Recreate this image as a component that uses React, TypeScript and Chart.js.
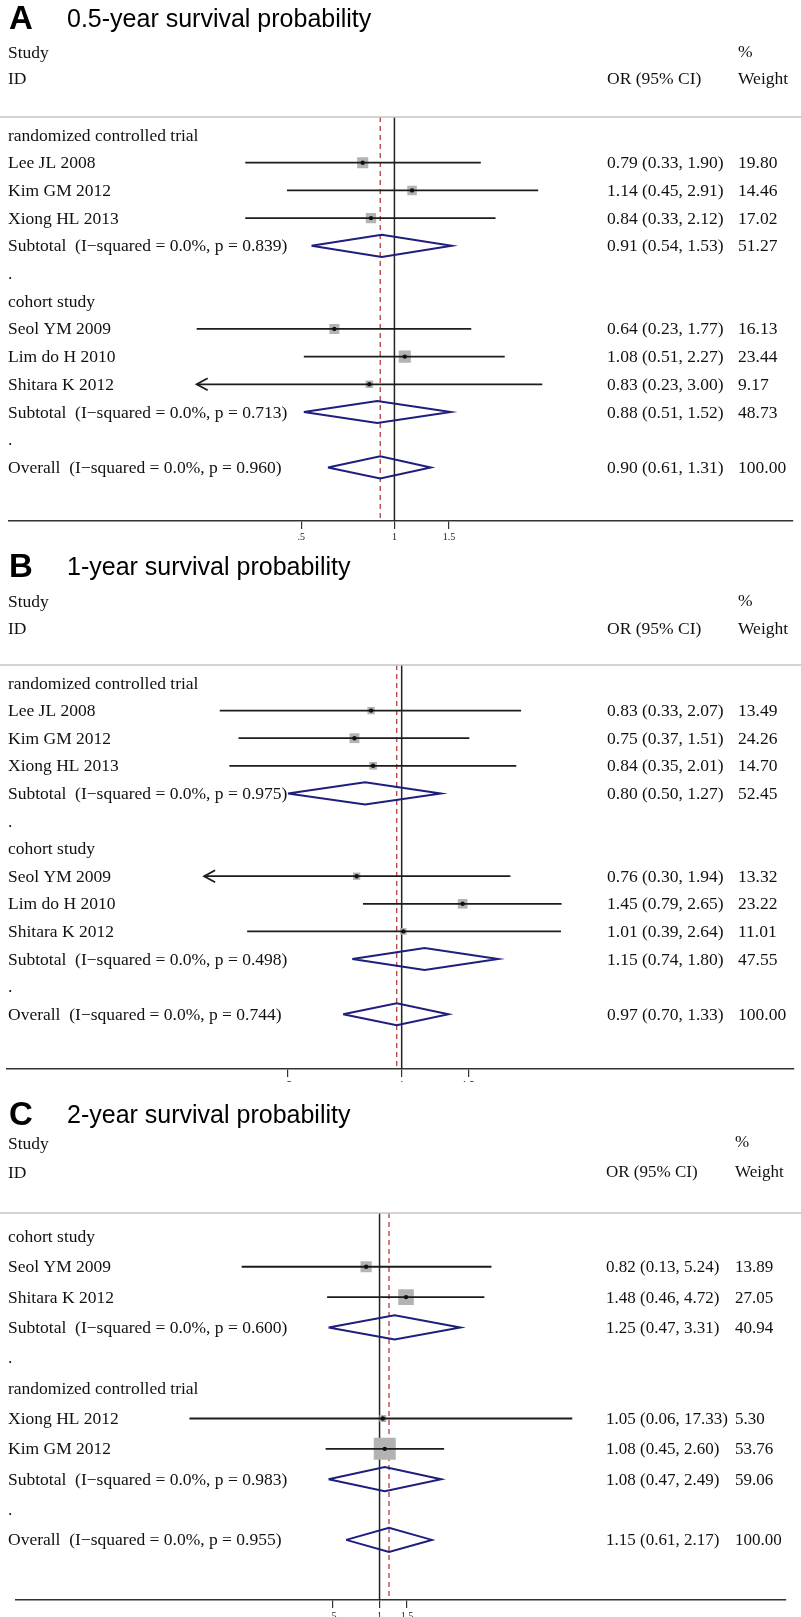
import React, { useEffect, useRef } from "react";
import { Chart, registerables } from "chart.js";

Chart.register(...registerables);

// ---------- Panel A: 0.5-year survival ----------
const aRows = [
  "randomized controlled trial",
  "Lee JL 2008",
  "Kim GM 2012",
  "Xiong HL 2013",
  "Subtotal  (I\u2212squared = 0.0%, p = 0.839)",
  ".",
  "cohort study",
  "Seol YM 2009",
  "Lim do H 2010",
  "Shitara K 2012",
  "Subtotal  (I\u2212squared = 0.0%, p = 0.713)",
  ".",
  "Overall  (I\u2212squared = 0.0%, p = 0.960)",
];
const aKind = ["group", "study", "study", "study", "pooled", "blank", "group", "study", "study", "study", "pooled", "blank", "pooled"];
const aOR = [null, 0.79, 1.14, 0.84, 0.91, null, null, 0.64, 1.08, 0.83, 0.88, null, 0.9];
const aLow = [null, 0.33, 0.45, 0.33, 0.54, null, null, 0.23, 0.51, 0.23, 0.51, null, 0.61];
const aHigh = [null, 1.9, 2.91, 2.12, 1.53, null, null, 1.77, 2.27, 3.0, 1.52, null, 1.31];
const aWeight = [null, 19.8, 14.46, 17.02, 51.27, null, null, 16.13, 23.44, 9.17, 48.73, null, 100.0];
const aArrow = [false, false, false, false, false, false, false, false, false, true, false, false, false];

// ---------- Panel B: 1-year survival ----------
const bRows = [
  "randomized controlled trial",
  "Lee JL 2008",
  "Kim GM 2012",
  "Xiong HL 2013",
  "Subtotal  (I\u2212squared = 0.0%, p = 0.975)",
  ".",
  "cohort study",
  "Seol YM 2009",
  "Lim do H 2010",
  "Shitara K 2012",
  "Subtotal  (I\u2212squared = 0.0%, p = 0.498)",
  ".",
  "Overall  (I\u2212squared = 0.0%, p = 0.744)",
];
const bKind = ["group", "study", "study", "study", "pooled", "blank", "group", "study", "study", "study", "pooled", "blank", "pooled"];
const bOR = [null, 0.83, 0.75, 0.84, 0.8, null, null, 0.76, 1.45, 1.01, 1.15, null, 0.97];
const bLow = [null, 0.33, 0.37, 0.35, 0.5, null, null, 0.3, 0.79, 0.39, 0.74, null, 0.7];
const bHigh = [null, 2.07, 1.51, 2.01, 1.27, null, null, 1.94, 2.65, 2.64, 1.8, null, 1.33];
const bWeight = [null, 13.49, 24.26, 14.7, 52.45, null, null, 13.32, 23.22, 11.01, 47.55, null, 100.0];
const bArrow = [false, false, false, false, false, false, false, true, false, false, false, false, false];

// ---------- Panel C: 2-year survival ----------
const cRows = [
  "cohort study",
  "Seol YM 2009",
  "Shitara K 2012",
  "Subtotal  (I\u2212squared = 0.0%, p = 0.600)",
  ".",
  "randomized controlled trial",
  "Xiong HL 2012",
  "Kim GM 2012",
  "Subtotal  (I\u2212squared = 0.0%, p = 0.983)",
  ".",
  "Overall  (I\u2212squared = 0.0%, p = 0.955)",
];
const cKind = ["group", "study", "study", "pooled", "blank", "group", "study", "study", "pooled", "blank", "pooled"];
const cOR = [null, 0.82, 1.48, 1.25, null, null, 1.05, 1.08, 1.08, null, 1.15];
const cLow = [null, 0.13, 0.46, 0.47, null, null, 0.06, 0.45, 0.47, null, 0.61];
const cHigh = [null, 5.24, 4.72, 3.31, null, null, 17.33, 2.6, 2.49, null, 2.17];
const cWeight = [null, 13.89, 27.05, 40.94, null, null, 5.3, 53.76, 59.06, null, 100.0];
const cArrow = [false, false, false, false, false, false, false, false, false, false, false];

// x-axis tick values and their printed labels
const tickValues = [0.5, 1, 1.5];
const tickLabels = [".5", "1", "1.5"];

const PAGE_W = 801;
const SERIF = "'Liberation Serif', 'Times New Roman', serif";
const SANS = "'Liberation Sans', Arial, sans-serif";

type PanelData = {
  letter: string;
  title: string;
  rows: string[];
  kind: string[];
  or: (number | null)[];
  low: (number | null)[];
  high: (number | null)[];
  weight: (number | null)[];
  arrow: boolean[];
};

type PanelLayout = {
  top: number;
  height: number;
  titleY: number;
  studyY: number;
  idY: number;
  sepY: number;
  firstRowY: number;
  rowStep: number;
  axisY: number;
  onePx: number;
  pxPerLn: number;
  colOR: number;
  colW: number;
  boxK: number;
  font: number;
  colFont: number;
};

const panels: { data: PanelData; layout: PanelLayout }[] = [
  {
    data: { letter: "A", title: "0.5-year survival probability", rows: aRows, kind: aKind, or: aOR, low: aLow, high: aHigh, weight: aWeight, arrow: aArrow },
    layout: { top: 0, height: 545, titleY: 20, studyY: 53, idY: 79, sepY: 117, firstRowY: 135, rowStep: 27.7, axisY: 521, onePx: 394.3, pxPerLn: 137.5, colOR: 607, colW: 738, boxK: 2.5, font: 17.5, colFont: 17.5 },
  },
  {
    data: { letter: "B", title: "1-year survival probability", rows: bRows, kind: bKind, or: bOR, low: bLow, high: bHigh, weight: bWeight, arrow: bArrow },
    layout: { top: 545, height: 537, titleY: 23, studyY: 57, idY: 84, sepY: 120, firstRowY: 138, rowStep: 27.6, axisY: 524, onePx: 401.7, pxPerLn: 167, colOR: 607, colW: 738, boxK: 2.0, font: 17.5, colFont: 17.5 },
  },
  {
    data: { letter: "C", title: "2-year survival probability", rows: cRows, kind: cKind, or: cOR, low: cLow, high: cHigh, weight: cWeight, arrow: cArrow },
    layout: { top: 1082, height: 535, titleY: 34, studyY: 62, idY: 91, sepY: 131, firstRowY: 154.4, rowStep: 30.35, axisY: 518, onePx: 378.7, pxPerLn: 70.3, colOR: 606, colW: 735, boxK: 3.0, font: 17.5, colFont: 17 },
  },
];

const CI_COLOR = "#1c1c1c";
const DIAMOND_COLOR = "#1e1e7e";
const BOX_COLOR = "#b3b3b3";
const NULL_LINE = "#222222";
const OVERALL_LINE = "#b84a4a";

function fmtCI(or: number, lo: number, hi: number) {
  return `${or.toFixed(2)} (${lo.toFixed(2)}, ${hi.toFixed(2)})`;
}

function buildDatasets(d: PanelData, L: PanelLayout) {
  const ds: any[] = [];
  const half = 0.4; // diamond half-height in row units
  d.kind.forEach((k, i) => {
    const or = d.or[i], lo = d.low[i], hi = d.high[i];
    if (or == null || lo == null || hi == null) return;
    if (k === "study") {
      ds.push({
        data: [{ x: lo, y: i }, { x: hi, y: i }],
        showLine: true,
        borderColor: CI_COLOR,
        borderWidth: 1.8,
        pointRadius: 0,
        order: 1,
      });
    } else if (k === "pooled") {
      ds.push({
        data: [
          { x: lo, y: i },
          { x: or, y: i - half },
          { x: hi, y: i },
          { x: or, y: i + half },
          { x: lo, y: i },
        ],
        showLine: true,
        fill: false,
        borderColor: DIAMOND_COLOR,
        borderWidth: 2,
        borderJoinStyle: "miter",
        pointRadius: 0,
        tension: 0,
        order: 1,
      });
    }
  });
  const studyIdx = d.kind.map((k, i) => (k === "study" ? i : -1)).filter((i) => i >= 0);
  // weight boxes: area proportional to study weight
  ds.push({
    data: studyIdx.map((i) => ({ x: d.or[i], y: i })),
    showLine: false,
    pointStyle: "rect",
    pointRadius: studyIdx.map((i) => (L.boxK * Math.sqrt(d.weight[i] as number)) / (2 * Math.SQRT1_2)),
    backgroundColor: BOX_COLOR,
    borderWidth: 0,
    order: 2,
  });
  // point estimates
  ds.push({
    data: studyIdx.map((i) => ({ x: d.or[i], y: i })),
    showLine: false,
    pointStyle: "circle",
    pointRadius: 2.2,
    backgroundColor: "#111111",
    borderWidth: 0,
    order: 0,
  });
  return ds;
}

function ForestPanel({ data, layout }: { data: PanelData; layout: PanelLayout }) {
  const ref = useRef<HTMLCanvasElement | null>(null);

  useEffect(() => {
    const canvas = ref.current;
    if (!canvas) return;
    const L = layout;
    const d = data;
    const top = L.sepY;
    const axis = L.axisY;
    const yMin = -(L.firstRowY - top) / L.rowStep;
    const yMax = yMin + (axis - top) / L.rowStep;
    const xMin = Math.exp(-L.onePx / L.pxPerLn);
    const xMax = Math.exp((PAGE_W - L.onePx) / L.pxPerLn);
    const overallIdx = d.kind.lastIndexOf("pooled");
    const overall = d.or[overallIdx] as number;

    const forestText = {
      id: "forestText",
      beforeDatasetsDraw(chart: any) {
        const { ctx, chartArea, scales } = chart;
        const x = scales.x;
        ctx.save();
        // null line at OR = 1
        const x1 = x.getPixelForValue(1);
        ctx.strokeStyle = NULL_LINE;
        ctx.lineWidth = 1.5;
        ctx.beginPath();
        ctx.moveTo(x1, chartArea.top);
        ctx.lineTo(x1, chartArea.bottom);
        ctx.stroke();
        // dashed line at the overall estimate
        const xo = x.getPixelForValue(overall);
        ctx.strokeStyle = OVERALL_LINE;
        ctx.lineWidth = 1.4;
        ctx.setLineDash([5, 4]);
        ctx.beginPath();
        ctx.moveTo(xo, chartArea.top);
        ctx.lineTo(xo, chartArea.bottom);
        ctx.stroke();
        ctx.restore();
      },
      afterDatasetsDraw(chart: any) {
        const { ctx, scales } = chart;
        const x = scales.x, y = scales.y;
        ctx.save();
        ctx.strokeStyle = CI_COLOR;
        ctx.lineWidth = 1.8;
        d.arrow.forEach((a, i) => {
          if (!a) return;
          const px = x.getPixelForValue(d.low[i]);
          const py = y.getPixelForValue(i);
          ctx.beginPath();
          ctx.moveTo(px + 11, py - 6);
          ctx.lineTo(px, py);
          ctx.lineTo(px + 11, py + 6);
          ctx.stroke();
        });
        ctx.restore();
      },
      afterDraw(chart: any) {
        const { ctx, scales } = chart;
        const y = scales.y;
        ctx.save();
        // title
        ctx.fillStyle = "#000";
        ctx.textBaseline = "middle";
        ctx.font = `bold 33px ${SANS}`;
        ctx.fillText(d.letter, 9, L.titleY);
        ctx.font = `25px ${SANS}`;
        ctx.fillText(d.title, 67, L.titleY);
        // column headers
        ctx.fillStyle = "#111";
        ctx.font = `${L.font}px ${SERIF}`;
        ctx.fillText("Study", 8, L.studyY);
        ctx.fillText("ID", 8, L.idY);
        ctx.font = `${L.colFont}px ${SERIF}`;
        ctx.fillText("%", L.colW, L.studyY - 1);
        ctx.fillText("OR (95% CI)", L.colOR, L.idY);
        ctx.fillText("Weight", L.colW, L.idY);
        // header rule
        ctx.strokeStyle = "#c4c4c4";
        ctx.lineWidth = 1.5;
        ctx.beginPath();
        ctx.moveTo(0, L.sepY);
        ctx.lineTo(PAGE_W, L.sepY);
        ctx.stroke();
        // row labels, estimates and weights
        d.rows.forEach((label, i) => {
          const py = y.getPixelForValue(i) + 1;
          ctx.font = `${L.font}px ${SERIF}`;
          ctx.fillText(label, 8, py);
          ctx.font = `${L.colFont}px ${SERIF}`;
          const or = d.or[i], lo = d.low[i], hi = d.high[i], w = d.weight[i];
          if (or != null && lo != null && hi != null) ctx.fillText(fmtCI(or, lo, hi), L.colOR, py);
          if (w != null) ctx.fillText(w.toFixed(2), L.colW, py);
        });
        ctx.restore();
      },
    };

    const chart = new Chart(canvas, {
      type: "scatter",
      data: { datasets: buildDatasets(d, L) },
      options: {
        animation: false,
        responsive: false,
        maintainAspectRatio: false,
        devicePixelRatio: 1,
        layout: { padding: { top: L.sepY, bottom: 0, left: 0, right: 0 } },
        plugins: { legend: { display: false }, tooltip: { enabled: false } },
        scales: {
          x: {
            type: "logarithmic",
            bounds: "data",
            min: xMin,
            max: xMax,
            afterFit: (s: any) => {
              s.height = L.height - L.axisY;
            },
            afterBuildTicks: (s: any) => {
              s.ticks = tickValues.map((v) => ({ value: v }));
            },
            ticks: {
              autoSkip: false,
              maxRotation: 0,
              padding: 2,
              color: "#222",
              font: { family: SERIF, size: 10 },
              callback: (v: any) => {
                const k = tickValues.indexOf(Number(v));
                return k >= 0 ? tickLabels[k] : "";
              },
            },
            grid: { display: true, drawOnChartArea: false, drawTicks: true, tickLength: 8, color: "#333", lineWidth: 1.2 },
            border: { display: true, color: "#333", width: 1.5 },
          },
          y: { type: "linear", display: false, reverse: true, min: yMin, max: yMax },
        },
      } as any,
      plugins: [forestText],
    });
    return () => chart.destroy();
  }, [data, layout]);

  return (
    <canvas
      ref={ref}
      width={PAGE_W}
      height={layout.height}
      style={{ position: "absolute", left: 0, top: layout.top, width: PAGE_W, height: layout.height, display: "block" }}
    />
  );
}

export default function App() {
  return (
    <div style={{ position: "absolute", left: 0, top: 0, width: PAGE_W, height: 1617, background: "#fff", overflow: "hidden" }}>
      {panels.map((p) => (
        <ForestPanel key={p.data.letter} data={p.data} layout={p.layout} />
      ))}
    </div>
  );
}
